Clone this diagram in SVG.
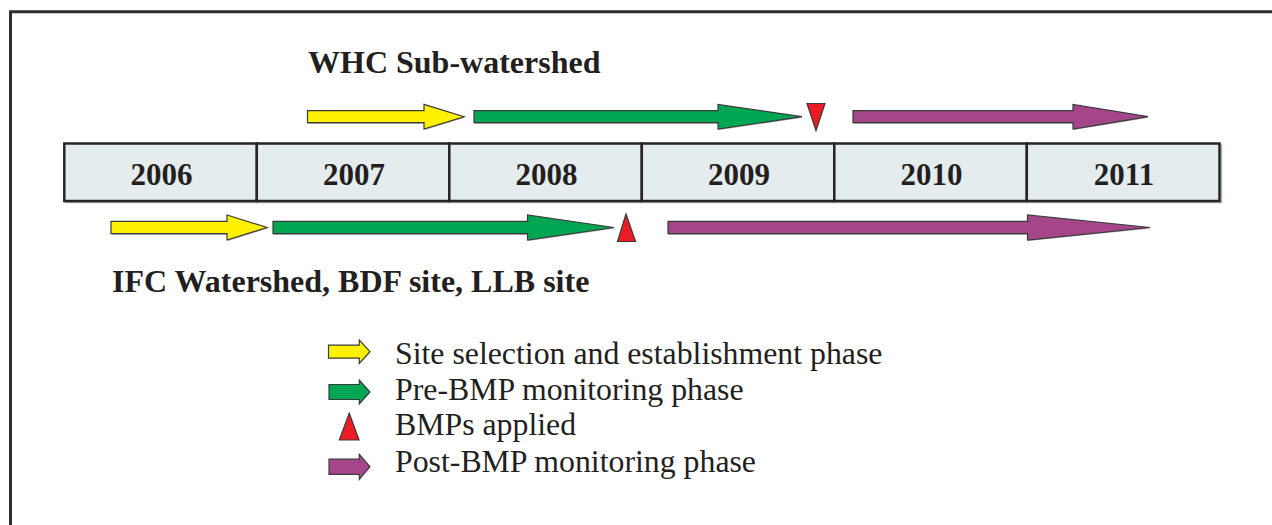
<svg xmlns="http://www.w3.org/2000/svg" width="1272" height="525" viewBox="0 0 1272 525">
  <style>
    .frame { fill: none; stroke: #2e2e2e; stroke-width: 3; }
    .cell { fill: #e4ecee; stroke: #262626; stroke-width: 2.5; }
    .shadow { fill: none; stroke: #b0b0b0; stroke-width: 1.5; }
    .year { font-family: "Liberation Serif", "Times New Roman", serif; font-weight: bold; font-size: 31px; fill: #231f20; text-anchor: middle; }
    .title { font-family: "Liberation Serif", "Times New Roman", serif; font-weight: bold; font-size: 32px; fill: #231f20; }
    .leg { font-family: "Liberation Serif", "Times New Roman", serif; font-size: 31.8px; fill: #231f20; }
    .shape { stroke: #3a3a3a; stroke-width: 1.2; stroke-linejoin: miter; }
    .ashadow { fill: #a8a8a8; }
    .yellow { fill: #fff200; }
    .green { fill: #00a651; }
    .red { fill: #ed1c24; }
    .purple { fill: #a6468a; }
  </style>

  <g id="frame">
    <path class="frame" d="M10.5,525 V11.7 H1272"/>
  </g>

  <g id="timeline">
    <rect class="shadow" x="65.5" y="145" width="1156" height="57.5"/>
    <g id="year-2006">
      <rect class="cell" x="64.3" y="143.5" width="192.5" height="57.5"/>
      <text class="year" x="161.5" y="184.5">2006</text>
    </g>
    <g id="year-2007">
      <rect class="cell" x="256.8" y="143.5" width="192.5" height="57.5"/>
      <text class="year" x="354" y="184.5">2007</text>
    </g>
    <g id="year-2008">
      <rect class="cell" x="449.3" y="143.5" width="192.5" height="57.5"/>
      <text class="year" x="546.5" y="184.5">2008</text>
    </g>
    <g id="year-2009">
      <rect class="cell" x="641.8" y="143.5" width="192.5" height="57.5"/>
      <text class="year" x="739" y="184.5">2009</text>
    </g>
    <g id="year-2010">
      <rect class="cell" x="834.3" y="143.5" width="192.5" height="57.5"/>
      <text class="year" x="931.5" y="184.5">2010</text>
    </g>
    <g id="year-2011">
      <rect class="cell" x="1026.8" y="143.5" width="192.7" height="57.5"/>
      <text class="year" x="1124" y="184.5">2011</text>
    </g>
  </g>

  <g id="whc-title">
    <text class="title" x="308" y="73">WHC Sub-watershed</text>
  </g>

  <g id="whc-row">
    <g id="whc-site-selection">
      <polygon class="ashadow" transform="translate(0.8,1)" points="307.5,110.7 424,110.7 424,104.4 464,116.7 424,129 424,122.7 307.5,122.7"/>
      <polygon class="shape yellow" points="307.5,110.7 424,110.7 424,104.4 464,116.7 424,129 424,122.7 307.5,122.7"/>
    </g>
    <g id="whc-pre-bmp">
      <polygon class="ashadow" transform="translate(0.8,1)" points="474,110.7 718,110.7 718,104.4 802,116.7 718,129 718,122.7 474,122.7"/>
      <polygon class="shape green" points="474,110.7 718,110.7 718,104.4 802,116.7 718,129 718,122.7 474,122.7"/>
    </g>
    <g id="whc-bmp-applied">
      <polygon class="shape red" points="807,103.5 825,103.5 816,130.5"/>
    </g>
    <g id="whc-post-bmp">
      <polygon class="ashadow" transform="translate(0.8,1)" points="853,110.7 1073,110.7 1073,104.4 1148,116.7 1073,129 1073,122.7 853,122.7"/>
      <polygon class="shape purple" points="853,110.7 1073,110.7 1073,104.4 1148,116.7 1073,129 1073,122.7 853,122.7"/>
    </g>
  </g>

  <g id="ifc-row">
    <g id="ifc-site-selection">
      <polygon class="ashadow" transform="translate(0.8,1)" points="111,221.3 227,221.3 227,215 267,227.5 227,240 227,233.7 111,233.7"/>
      <polygon class="shape yellow" points="111,221.3 227,221.3 227,215 267,227.5 227,240 227,233.7 111,233.7"/>
    </g>
    <g id="ifc-pre-bmp">
      <polygon class="ashadow" transform="translate(0.8,1)" points="273,221.3 527.5,221.3 527.5,215 614,227.5 527.5,240 527.5,233.7 273,233.7"/>
      <polygon class="shape green" points="273,221.3 527.5,221.3 527.5,215 614,227.5 527.5,240 527.5,233.7 273,233.7"/>
    </g>
    <g id="ifc-bmp-applied">
      <polygon class="shape red" points="617.5,241.5 635.5,241.5 626,214"/>
    </g>
    <g id="ifc-post-bmp">
      <polygon class="ashadow" transform="translate(0.8,1)" points="668,221.3 1027.5,221.3 1027.5,215 1150,227.5 1027.5,240 1027.5,233.7 668,233.7"/>
      <polygon class="shape purple" points="668,221.3 1027.5,221.3 1027.5,215 1150,227.5 1027.5,240 1027.5,233.7 668,233.7"/>
    </g>
  </g>

  <g id="ifc-title">
    <text class="title" x="112" y="292">IFC Watershed, BDF site, LLB site</text>
  </g>

  <g id="legend">
    <g id="legend-site-selection">
      <polygon class="shape yellow" points="328.5,345.2 359.3,345.2 359.3,340 370,351.7 359.3,363.4 359.3,358.2 328.5,358.2"/>
      <text class="leg" x="395" y="364">Site selection and establishment phase</text>
    </g>
    <g id="legend-pre-bmp">
      <polygon class="shape green" points="329,384.5 359.3,384.5 359.3,380 370,392 359.3,404 359.3,399.5 329,399.5"/>
      <text class="leg" x="395" y="399.5">Pre-BMP monitoring phase</text>
    </g>
    <g id="legend-bmp-applied">
      <polygon class="shape red" points="339.3,440 359,440 349.3,413.3"/>
      <text class="leg" x="395" y="435">BMPs applied</text>
    </g>
    <g id="legend-post-bmp">
      <polygon class="shape purple" points="329,459.2 359.3,459.2 359.3,454.3 370,466.8 359.3,479.3 359.3,474.4 329,474.4"/>
      <text class="leg" x="395" y="471.5">Post-BMP monitoring phase</text>
    </g>
  </g>
</svg>
